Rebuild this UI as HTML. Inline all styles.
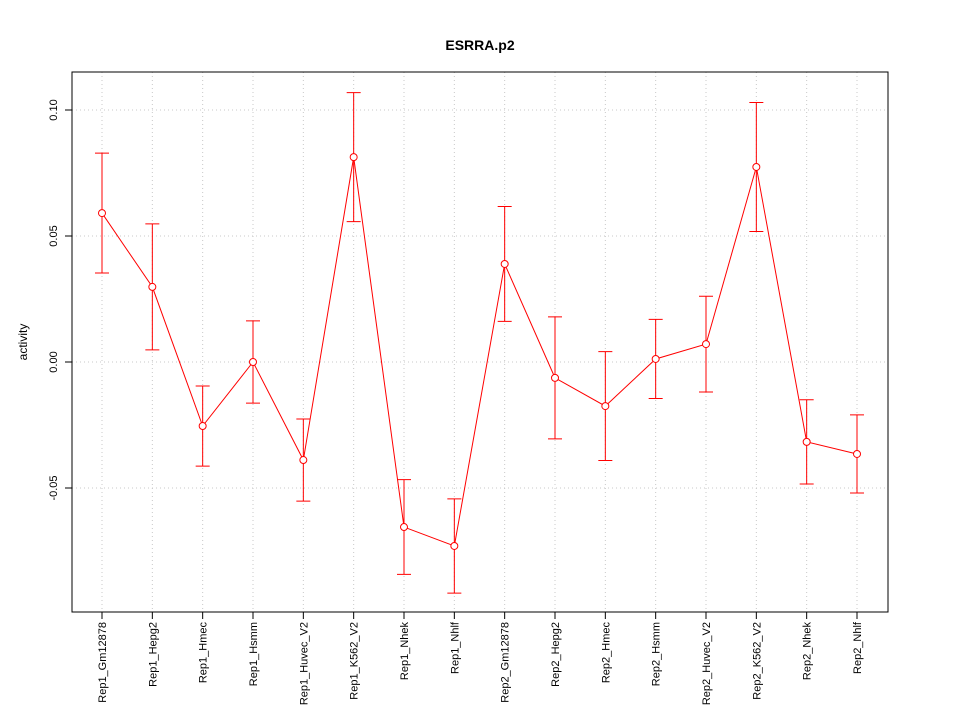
<!DOCTYPE html>
<html><head><meta charset="utf-8"><style>
body{margin:0;background:#fff;}
svg text{font-family:"Liberation Sans",sans-serif;}
</style></head><body>
<svg id="chart" width="960" height="720" xmlns="http://www.w3.org/2000/svg">
<rect width="960" height="720" fill="#fff"/>
<text x="480" y="50" text-anchor="middle" font-size="14" font-weight="bold">ESRRA.p2</text>
<text transform="translate(27,342) rotate(-90)" text-anchor="middle" font-size="12">activity</text>
<g id="grid"></g><g id="axes"></g><g id="marks"></g>
<rect x="72" y="72" width="816" height="540" fill="none" stroke="#000" stroke-width="1"/>
</svg>
<script>
const categories=["Rep1_Gm12878","Rep1_Hepg2","Rep1_Hmec","Rep1_Hsmm","Rep1_Huvec_V2","Rep1_K562_V2","Rep1_Nhek","Rep1_Nhlf","Rep2_Gm12878","Rep2_Hepg2","Rep2_Hmec","Rep2_Hsmm","Rep2_Huvec_V2","Rep2_K562_V2","Rep2_Nhek","Rep2_Nhlf"];
const values=[0.0591,0.0298,-0.0254,0.0,-0.0389,0.0813,-0.0655,-0.073,0.0389,-0.0063,-0.0175,0.0012,0.0071,0.0774,-0.0317,-0.0365];
const errors=[0.0238,0.025,0.0159,0.0163,0.0163,0.0256,0.0188,0.0187,0.0228,0.0242,0.0216,0.0157,0.019,0.0256,0.0167,0.0155];
const yTicks=[-0.05,0.0,0.05,0.10];
const yTickLabels=["-0.05","0.00","0.05","0.10"];
const NS="http://www.w3.org/2000/svg";
function xs(i){return 102+i*(857-102)/(categories.length-1);}
function ys(v){return 362-v*2520;}
function mk(tag,attrs,parent){const e=document.createElementNS(NS,tag);for(const k in attrs)e.setAttribute(k,attrs[k]);parent.appendChild(e);return e;}
const grid=document.getElementById('grid'),axes=document.getElementById('axes'),marks=document.getElementById('marks');
categories.forEach((c,i)=>{
 const g=mk('line',{x1:xs(i),x2:xs(i),y1:72,y2:612,stroke:'#c8c8c8','stroke-dasharray':'1,3'},grid);
 
 
 mk('line',{x1:xs(i),x2:xs(i),y1:612,y2:619,stroke:'#000'},axes);
 const t=mk('text',{transform:`translate(${xs(i)+4},622) rotate(-90)`,'text-anchor':'end','font-size':'11'},axes);
 t.textContent=c;
 
 
});
yTicks.forEach((v,i)=>{
 const g=mk('line',{x1:72,x2:888,y1:ys(v),y2:ys(v),stroke:'#c8c8c8','stroke-dasharray':'1,3'},grid);
 
 
 mk('line',{x1:65,x2:72,y1:ys(v),y2:ys(v),stroke:'#000'},axes);
 const t=mk('text',{transform:`translate(57,${ys(v)}) rotate(-90)`,'text-anchor':'middle','font-size':'11'},axes);
 t.textContent=yTickLabels[i];
 
 
});
const pts=values.map((v,i)=>xs(i)+','+ys(v)).join(' ');
const pl=mk('polyline',{points:pts,fill:'none',stroke:'#ff0000','stroke-width':1},marks);


values.forEach((v,i)=>{
 const x=xs(i),hi=ys(v+errors[i]),lo=ys(v-errors[i]);
 const eb=mk('path',{d:`M${x},${hi}V${lo}M${x-7},${hi}H${x+7}M${x-7},${lo}H${x+7}`,stroke:'#ff0000','stroke-width':1,fill:'none'},marks);
 
 
 const c=mk('circle',{cx:x,cy:ys(v),r:3.5,fill:'#fff',stroke:'#ff0000','stroke-width':1},marks);
 
 
});
</script>
</body></html>
